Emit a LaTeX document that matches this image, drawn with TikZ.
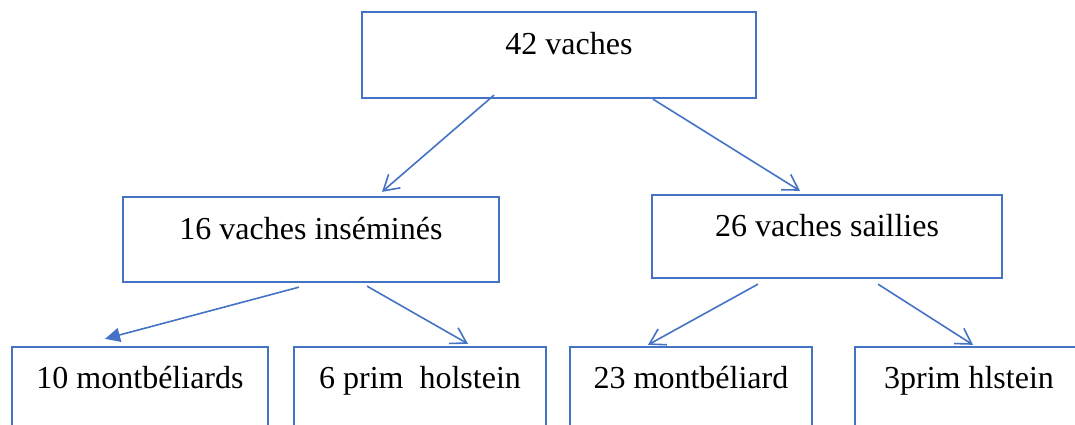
\documentclass[tikz,border=0pt]{standalone}
\usepackage{fontspec}
\setmainfont{Liberation Serif}
\usepackage{tikz}
\usepackage{xcolor}
\usetikzlibrary{arrows.meta}
\definecolor{wordblue}{HTML}{4472C4}

\begin{document}
\begin{tikzpicture}[x=1pt, y=-1pt,
    box/.style={draw=wordblue, line width=2.3pt, inner sep=0pt, text height=#1, text depth=#1,
        font=\fontsize{32}{37}\selectfont},
    box/.default=42pt,
    fleche/.style={draw=wordblue, line width=1.6pt, -{Straight Barb[length=15pt,width=18pt]}},
    plein/.style={draw=wordblue, line width=1.6pt, -{Triangle[length=15pt,width=14pt]}}]
\useasboundingbox (0,0) rectangle (1075,425);
\clip (0,0) rectangle (1075,425);
\node[box=43pt, minimum width=394pt] (root) at (559,55) {\hspace*{20pt}42 vaches};
\node[box=42.5pt, minimum width=376pt] (ins) at (311,239.5) {16 vaches inséminés};
\node[box=41.5pt, minimum width=350pt] (sail) at (827,236.5) {26 vaches saillies};
\node[box=41pt, minimum width=256pt] (m10) at (140,388) {10 montbéliards};
\node[box=41pt, minimum width=252pt] (h6) at (420,388) {6 prim\ \ holstein};
\node[box=41pt, minimum width=242pt] (m23) at (691,388) {23 montbéliard};
\node[box=41pt, minimum width=228pt] (h3) at (969,388) {3prim hlstein};
\draw[fleche] ([xshift=-65pt,yshift=4pt]root.south) -- ([xshift=71pt,yshift=4pt]ins.north);
\draw[fleche] ([xshift=94pt]root.south) -- ([xshift=-27pt,yshift=3pt]sail.north);
\draw[plein] ([xshift=-12pt,yshift=-4pt]ins.south) -- ([xshift=-35pt,yshift=7pt]m10.north);
\draw[fleche] ([xshift=56pt,yshift=-3pt]ins.south) -- ([xshift=48pt,yshift=2pt]h6.north);
\draw[fleche] ([xshift=-69pt,yshift=-5pt]sail.south) -- ([xshift=-43pt,yshift=1pt]m23.north);
\draw[fleche] ([xshift=51pt,yshift=-5pt]sail.south) -- ([xshift=4pt,yshift=1pt]h3.north);
\end{tikzpicture}
\end{document}
